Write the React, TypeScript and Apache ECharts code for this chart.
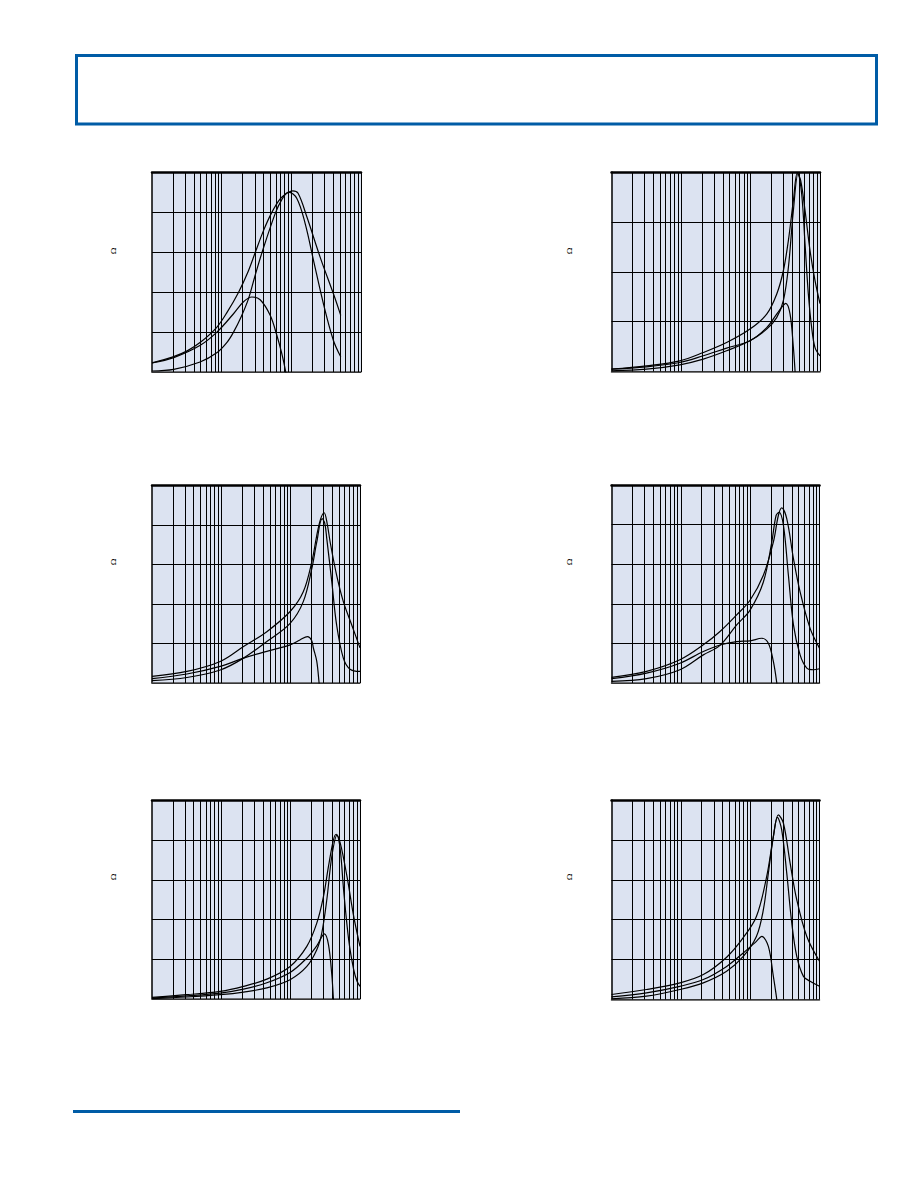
import React, { useEffect, useRef } from "react";
import * as echarts from "echarts";

// Impedance vs frequency, [frequency (MHz), ohms]
const p1Z: [number, number][] = [[1, 23], [2, 38], [3.2, 53], [5, 75], [8.5, 112], [12, 150], [17.5, 200], [24, 252], [30.4, 300], [40, 355], [52.5, 400], [70, 435], [90, 450], [105, 454], [125, 448], [167, 389], [259, 288], [402, 196], [512, 142]];
const p1R: [number, number][] = [[1, 2.5], [2.05, 6.7], [4.9, 25], [8.5, 48], [12, 75], [14.8, 100], [19, 138], [24.3, 184], [30, 240], [37.7, 298], [58.6, 397], [73, 432], [91, 451], [120, 435], [158, 372], [208, 280], [289, 171], [402, 79], [512, 38]];
const p1X: [number, number][] = [[1, 22.6], [2.05, 36], [4.93, 67], [8.55, 100], [14.8, 146], [20.6, 176], [27.1, 188], [35.7, 181], [49.7, 142], [61.9, 92], [73, 46], [83.2, 0], [91, -38]];

const p2Z: [number, number][] = [[1, 4.7], [3.19, 11.4], [9.64, 21.4], [20.9, 38], [45.3, 58], [98.2, 85], [171, 115], [238, 155], [297, 202], [351, 263], [414, 343], [472, 398], [527, 383], [609, 323], [718, 243], [848, 182], [1000, 136]];
const p2R: [number, number][] = [[1, 1.3], [3.19, 4.7], [9.64, 13.4], [20.9, 24.8], [45.3, 41.5], [98.2, 61.6], [171, 85], [238, 108], [297, 142], [351, 209], [414, 323], [483, 397], [545, 356], [609, 256], [680, 155], [759, 88], [848, 48], [1000, 31.5]];
const p2X: [number, number][] = [[1, 4.7], [3.19, 9.4], [9.64, 18], [20.9, 31.5], [45.3, 47], [98.2, 61.6], [171, 88], [238, 115], [281, 128.6], [321, 136.7], [371, 115], [414, 48], [438, 0], [460, -50]];

const p3Z: [number, number][] = [[1, 16.8], [3.19, 29.4], [9.64, 54.6], [20.9, 92.4], [45.3, 130], [98.2, 181], [152, 231], [202, 307], [238, 374], [270, 415], [304, 431], [335, 405], [371, 357], [460, 273], [575, 206], [760, 147], [1000, 89]];
const p3R: [number, number][] = [[1, 5.9], [3.19, 14], [9.64, 33], [20.9, 63], [45.3, 105], [98.2, 151], [152, 206], [202, 290], [238, 357], [284, 416], [310, 405], [332, 365], [392, 256], [460, 147], [575, 63], [718, 35], [1000, 29.4]];
const p3X: [number, number][] = [[1, 10.9], [3.19, 22.7], [9.64, 42], [20.9, 63], [45.3, 80], [98.2, 96.6], [136, 109], [175, 117.6], [200, 108], [213, 88], [238, 54.6], [257, 0], [270, -40]];

const p4Z: [number, number][] = [[1, 14.2], [3.2, 29.3], [9.7, 58.6], [21.1, 96.3], [36.7, 130], [63.9, 172], [99.6, 209], [155, 272], [216, 356], [255, 423], [285, 442], [337, 415], [421, 314], [525, 230], [732, 138], [1000, 88]];
const p4R: [number, number][] = [[1, 4.2], [3.2, 10.9], [9.7, 33.5], [21.1, 71], [36.7, 95], [63.9, 146.6], [99.6, 184], [155, 255], [205, 356], [236.5, 423], [261, 431], [302, 398], [356, 272], [421, 147], [525, 71], [656, 37.7], [818, 33.5], [1000, 36]];
const p4X: [number, number][] = [[1, 10.9], [3.2, 25], [9.7, 50], [21.1, 79.6], [36.7, 96], [63.9, 104.7], [99.6, 106.4], [147, 113], [183, 100.5], [216, 54.4], [242, 0], [255, -40]];

const p5Z: [number, number][] = [[1, 4.2], [3.19, 10.9], [9.64, 19.3], [20.9, 31.9], [45.3, 50], [98.2, 82], [171, 132.6], [238, 191], [297, 258], [351, 334], [414, 401], [454, 415], [519, 392.6], [649, 308.7], [811, 208], [1000, 132.6]];
const p5R: [number, number][] = [[1, 0.8], [3.19, 5], [9.64, 10.9], [20.9, 17.5], [45.3, 28], [98.2, 48.7], [171, 82], [238, 124], [281, 166], [332, 250], [392, 359], [464, 412], [519, 376], [580, 275], [687, 149], [811, 74], [907, 44.5], [1000, 32]];
const p5X: [number, number][] = [[1, 2.5], [3.19, 8], [9.64, 15], [20.9, 25], [45.3, 41], [98.2, 67], [171, 103], [238, 134], [307, 164], [351, 137], [392, 61], [414, 0], [430, -40]];

const p6Z: [number, number][] = [[1, 12.5], [3.2, 25], [9.7, 41.7], [21.1, 62.5], [45.8, 106], [79.5, 155], [123, 208], [173, 308], [216, 408], [255, 462.5], [302, 441.7], [377, 341.7], [470, 250], [656, 158], [1000, 96]];
const p6R: [number, number][] = [[1, 1.7], [3.2, 8.3], [9.7, 25], [21.1, 41.7], [45.8, 70.8], [79.5, 108], [123, 158], [155, 225], [183, 316.7], [216, 408], [247, 456.7], [285, 425], [337, 316.7], [398, 191.7], [470, 108], [587, 58], [732, 45.8], [1000, 33]];
const p6X: [number, number][] = [[1, 6.7], [3.2, 16.7], [9.7, 33], [21.1, 50], [45.8, 83], [79.5, 116.7], [123, 145.8], [147, 158], [183, 133], [216, 58], [242, 0], [255, -40]];

// Full-scale impedance of each panel (ohms) and its division size
const yMaxes = [500, 400, 500, 500, 500, 500];
const yStep = 100;

// Frequency grid lines over three decades
const freqGrid: number[] = [];
for (const d of [1, 10, 100]) {
  for (let m = 2; m <= 10; m++) freqGrid.push(m * d);
}

const curves = [
  [p1Z, p1R, p1X],
  [p2Z, p2R, p2X],
  [p3Z, p3R, p3X],
  [p4Z, p4R, p4X],
  [p5Z, p5R, p5X],
  [p6Z, p6R, p6X],
];

// Panel layout: plot rectangle and y-axis unit position
const layout = [
  { left: 152, top: 172.5, width: 209, height: 199.5, ux: 113, uy: 251 },
  { left: 611.5, top: 172, width: 208.5, height: 199.5, ux: 569, uy: 251 },
  { left: 152, top: 485.5, width: 208, height: 197.5, ux: 113, uy: 562 },
  { left: 611.5, top: 485, width: 208, height: 198, ux: 569, uy: 562 },
  { left: 152, top: 800.5, width: 208, height: 198.5, ux: 113, uy: 877 },
  { left: 611.5, top: 800, width: 208, height: 199.5, ux: 569, uy: 877 },
];

const BLUE = "#005ca6";
const PANEL_BG = "#dce3f1";

export default function App() {
  const ref = useRef<HTMLDivElement>(null);

  useEffect(() => {
    if (!ref.current) return;
    const chart = echarts.init(ref.current, undefined, { renderer: "svg" });

    const grid: any[] = [];
    const xAxis: any[] = [];
    const yAxis: any[] = [];
    const series: any[] = [];
    const graphic: any[] = [];

    layout.forEach((g, i) => {
      grid.push({
        left: g.left,
        top: g.top,
        width: g.width,
        height: g.height,
        show: true,
        backgroundColor: PANEL_BG,
        borderWidth: 0,
      });
      const logAxis = {
        type: "log",
        logBase: 10,
        min: 1,
        max: 1000,
        gridIndex: i,
        axisTick: { show: false },
        axisLabel: { show: false },
        splitLine: { show: false },
      };
      xAxis.push({ ...logAxis, position: "bottom", axisLine: { show: true, lineStyle: { color: "#4a4a4a", width: 1.5 } } });
      xAxis.push({ ...logAxis, position: "top", axisLine: { show: true, lineStyle: { color: "#000", width: 2.5 } } });
      yAxis.push({
        type: "value",
        gridIndex: i,
        min: 0,
        max: yMaxes[i],
        interval: yStep,
        axisTick: { show: false },
        axisLabel: { show: false },
        axisLine: { show: true, lineStyle: { color: "#000", width: 1.5 } },
        splitLine: { show: true, lineStyle: { color: "#000", width: 1 } },
      });

      curves[i].forEach((data, k) => {
        series.push({
          type: "line",
          xAxisIndex: i * 2,
          yAxisIndex: i,
          data,
          showSymbol: false,
          smooth: 0.35,
          clip: true,
          lineStyle: { color: "#000", width: 1.2 },
          z: 3,
          markLine:
            k === 0
              ? {
                  silent: true,
                  symbol: ["none", "none"],
                  label: { show: false },
                  lineStyle: { color: "#000", width: 1, type: "solid" },
                  data: freqGrid.map((f) => ({ xAxis: f })),
                  z: 2,
                }
              : undefined,
        });
      });

      graphic.push({
        type: "text",
        x: g.ux,
        y: g.uy,
        rotation: Math.PI / 2,
        style: {
          text: "Ω",
          font: '8px "DejaVu Serif"',
          fill: "#000",
          align: "center",
          verticalAlign: "middle",
        },
      });
    });

    // Page header box and footer rule
    graphic.push({
      type: "rect",
      shape: { x: 76.5, y: 55.5, width: 800, height: 68.5 },
      style: { fill: "none", stroke: BLUE, lineWidth: 3 },
    });
    graphic.push({
      type: "line",
      shape: { x1: 73, y1: 1111.5, x2: 460, y2: 1111.5 },
      style: { stroke: BLUE, lineWidth: 3 },
    });

    chart.setOption({
      animation: false,
      backgroundColor: "#fff",
      grid,
      xAxis,
      yAxis,
      series,
      graphic,
    });

    return () => chart.dispose();
  }, []);

  return (
    <div
      ref={ref}
      style={{ position: "absolute", left: 0, top: 0, width: 918, height: 1188 }}
    />
  );
}
